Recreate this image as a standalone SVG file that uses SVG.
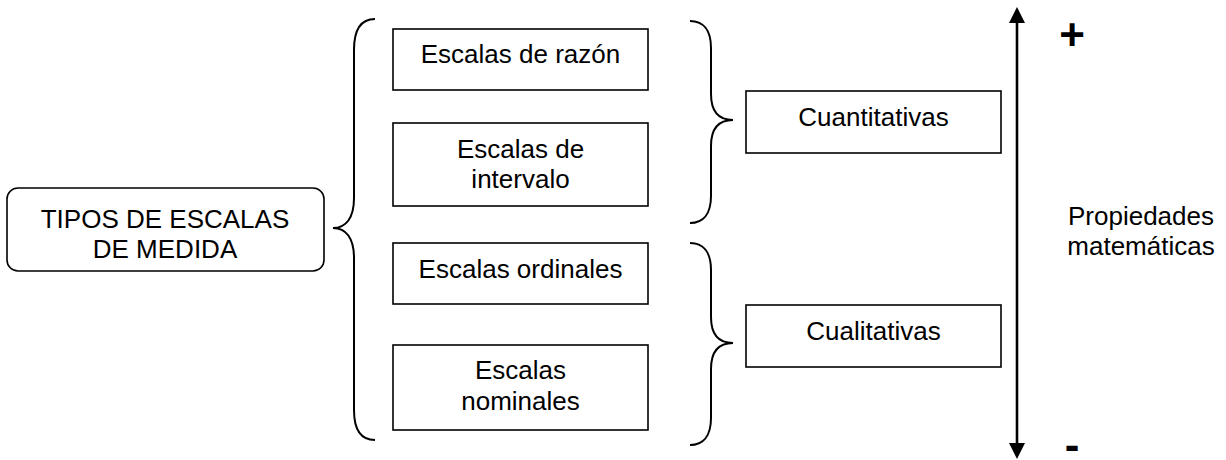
<svg xmlns="http://www.w3.org/2000/svg" width="1226" height="460" viewBox="0 0 1226 460">
<style>
  .box { fill: #ffffff; stroke: #000000; stroke-width: 1.6; }
  .t { font-family: "Liberation Sans", Arial, sans-serif; font-size: 26px; fill: #000000; text-anchor: middle; }
  .sign { font-family: "Liberation Sans", Arial, sans-serif; font-weight: bold; font-size: 44px; fill: #000000; text-anchor: middle; }
  .brace { fill: none; stroke: #000000; stroke-width: 2; }
  .axis { fill: none; stroke: #000000; stroke-width: 2.6; }
</style>
<defs>
  <marker id="ah" viewBox="0 0 16 16" refX="1" refY="8" markerWidth="16" markerHeight="16" markerUnits="userSpaceOnUse" orient="auto-start-reverse">
    <path d="M0,0 L16,8 L0,16 Z" fill="#000000"/>
  </marker>
</defs>
<rect width="1226" height="460" fill="#ffffff"/>

<g id="tipos">
  <rect class="box" x="7" y="188" width="317" height="83" rx="11" ry="11"/>
  <text class="t" x="165" y="228">TIPOS DE ESCALAS</text>
  <text class="t" x="165" y="258">DE MEDIDA</text>
</g>

<g id="razon">
  <rect class="box" x="393" y="29" width="255" height="61"/>
  <text class="t" x="520.5" y="63">Escalas de razón</text>
</g>

<g id="intervalo">
  <rect class="box" x="393" y="123" width="255" height="83"/>
  <text class="t" x="520.5" y="158">Escalas de</text>
  <text class="t" x="520.5" y="188">intervalo</text>
</g>

<g id="ordinales">
  <rect class="box" x="393" y="243" width="255" height="61"/>
  <text class="t" x="520.5" y="278">Escalas ordinales</text>
</g>

<g id="nominales">
  <rect class="box" x="393" y="345" width="255" height="85"/>
  <text class="t" x="520.5" y="379">Escalas</text>
  <text class="t" x="520.5" y="410">nominales</text>
</g>

<g id="cuantitativas">
  <rect class="box" x="746" y="91" width="255" height="62"/>
  <text class="t" x="873.5" y="126">Cuantitativas</text>
</g>

<g id="cualitativas">
  <rect class="box" x="746" y="305" width="255" height="62"/>
  <text class="t" x="873.5" y="340">Cualitativas</text>
</g>

<g id="propiedades">
  <text class="t" x="1141" y="225">Propiedades</text>
  <text class="t" x="1141" y="255">matemáticas</text>
</g>

<g id="signs">
  <text class="sign" x="1072" y="50">+</text>
  <text class="sign" x="1072" y="460">-</text>
</g>

<g id="connectors">
  <path class="brace" d="M375,19 C361,19 354,30 354,50 L354,198 C354,218 346,228 333,228 C346,228 354,238 354,258 L354,410 C354,430 361,440 375,440"/>
  <path class="brace" d="M690,21 C703,21 711,30 711,48 L711,94 C711,112 719,120 733,120 C719,120 711,128 711,146 L711,196 C711,214 703,223 690,223"/>
  <path class="brace" d="M690,243 C703,243 711,252 711,270 L711,317 C711,335 719,343 733,343 C719,343 711,351 711,369 L711,418 C711,436 703,445 690,445"/>
  <line class="axis" x1="1017" y1="22" x2="1017" y2="444" marker-start="url(#ah)" marker-end="url(#ah)"/>
</g>
</svg>
